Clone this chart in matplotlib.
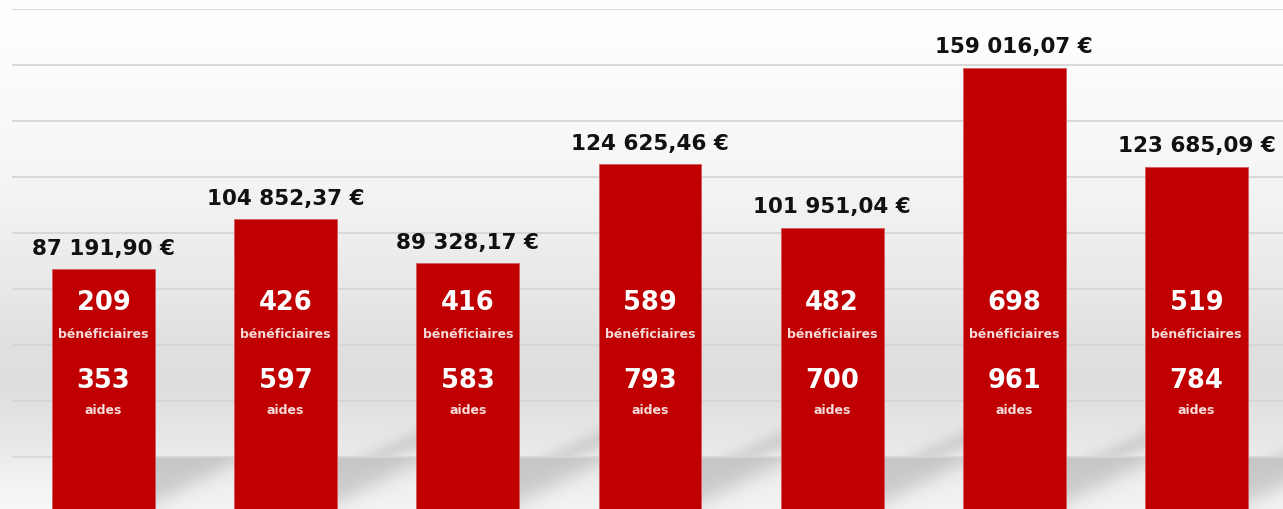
import numpy as np
import matplotlib
matplotlib.use('Agg')
import matplotlib.pyplot as plt


montants = [87191.90, 104852.37, 89328.17, 124625.46, 101951.04, 159016.07, 123685.09]
beneficiaires = [209, 426, 416, 589, 482, 698, 519]
aides = [353, 597, 583, 793, 700, 961, 784]

W, H = 1283, 510
BAR_COLOR = '#c00000'
BAR_WIDTH = 0.565


def _format_euro(v):
    
    s = f"{v:,.2f}".replace(",", " ").replace(".", ",")
    return s + " €"


def _background():
    """Grey studio-like backdrop with a floor and diagonal shadows."""
    
    yy, xx = np.mgrid[0:H, 0:W].astype(float)
    
    # wall: white at top to light grey, lighter again near the bottom
    wall_y = [0, 66, 122, 178, 234, 290, 346, 385, 420, 448, 470, 510]
    wall_v = [255, 252, 249, 245, 239, 232, 224, 222, 228, 233, 240, 248]
    img = np.interp(yy, wall_y, wall_v)
    
    period = 182.17
    x_edge = 12.4 + period * (0.5 + BAR_WIDTH / 2)
    s = np.mod(xx - x_edge, period)
    behind = xx >= x_edge
    
    # floor below the horizon line, dark upper-left and light lower-right
    floor = np.interp(yy, [457, 459, 470, 510], [222, 198, 200, 205])
    y_li = 503 - 0.5 * s
    floor = floor + 38 / (1 + np.exp(-(yy - y_li) / 6.0))
    img = np.where(behind & (yy >= 457), floor, img)
    
    # soft diagonal shadow above the horizon line
    y_sh = 476 - 0.45 * s
    shadow = 22 * np.exp(-((yy - y_sh) / 11.0) ** 2)
    img = img - np.where(behind & (yy < 457) & (xx > x_edge + period), shadow, 0)
    
    img = np.clip(img, 0, 255) / 255.0
    return np.dstack([img, img, img])


fig = plt.figure(figsize=(W / 100, H / 100), dpi=100)

bg = fig.add_axes([0, 0, 1, 1])
bg.imshow(_background(), aspect='auto', extent=(0, 1, 0, 1), interpolation='bilinear')
bg.axis('off')

ax = fig.add_axes([12.4 / W, -4 / H, 1275.2 / W, 504 / H])
ax.set_facecolor('none')

x = np.arange(len(montants))
ax.bar(x, montants, width=BAR_WIDTH, color=BAR_COLOR, edgecolor='#d65a5a',
       linewidth=0.6, zorder=3)

ax.set_xlim(-0.5, len(montants) - 0.5)
ax.set_ylim(0, 180000)
ax.set_yticks(np.arange(20000, 180001, 20000))
ax.yaxis.grid(True, color='#d6d6d6', linewidth=1.3, zorder=0)
ax.set_axisbelow(True)
ax.tick_params(left=False, bottom=False, labelleft=False, labelbottom=False)

for side in ax.spines.values():
    
    side.set_visible(False)

trans = ax.get_xaxis_transform()

for i, v in enumerate(montants):
    
    ax.annotate(_format_euro(v), (i, v), xytext=(0, 11), textcoords='offset points',
                ha='center', va='baseline', fontsize=15.5, fontweight='bold',
                color='#111111', zorder=4)
    
    ax.text(i, 0.419, str(beneficiaires[i]), transform=trans, ha='center', va='center',
            fontsize=18.5, fontweight='bold', color='white', zorder=4)
    ax.text(i, 0.357, 'bénéficiaires', transform=trans, ha='center', va='center',
            fontsize=9, fontweight='bold', color='#f5dada', zorder=4)
    ax.text(i, 0.264, str(aides[i]), transform=trans, ha='center', va='center',
            fontsize=18.5, fontweight='bold', color='white', zorder=4)
    ax.text(i, 0.206, 'aides', transform=trans, ha='center', va='center',
            fontsize=9, fontweight='bold', color='#f5dada', zorder=4)

fig.savefig('out.png', dpi=100)
plt.close(fig)
